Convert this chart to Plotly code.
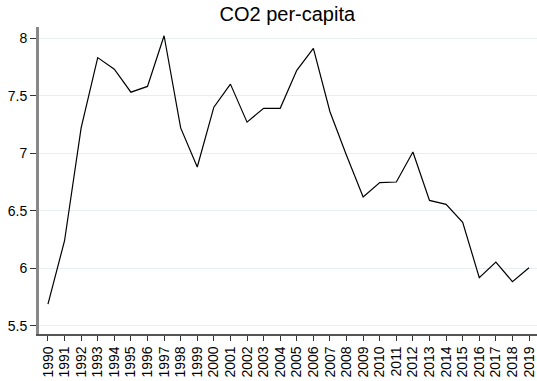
import plotly.graph_objects as go

# Données
years = list(range(1990, 2020))
year_labels = [str(y) for y in years]
co2 = [5.69, 6.24, 7.22, 7.83, 7.73, 7.53, 7.58, 8.02, 7.22, 6.88,
       7.40, 7.60, 7.27, 7.39, 7.39, 7.72, 7.91, 7.36, 6.98, 6.62,
       6.745, 6.75, 7.01, 6.59, 6.556, 6.40, 5.92, 6.055, 5.885, 6.005]
y_ticks = [5.5, 6, 6.5, 7, 7.5, 8]
y_labels = ["5.5", "6", "6.5", "7", "7.5", "8"]

# Créer le plot
fig = go.Figure()
fig.add_trace(go.Scatter(x=years, y=co2, mode="lines",
                         line=dict(color="black", width=1.2)))

# Update layout du plot
fig.update_layout(
        width=537, height=381,
        template="plotly_white",
        plot_bgcolor="white",
        paper_bgcolor="white",
        showlegend=False,
        margin=dict(l=39, r=0, t=27, b=47, autoexpand=False),
        title=dict(text="CO2 per-capita", x=0.535, xanchor="center",
                   y=0.962, yanchor="middle",
                   font=dict(size=20, color="black")),
        font=dict(family="Arial, Liberation Sans, sans-serif", size=14, color="black"),
        )

fig.update_xaxes(range=[1989.46, 2019.48], tickmode="array",
                 tickvals=years, ticktext=year_labels, automargin=False,
                 tickangle=-90, ticks="outside", ticklen=5, tickcolor="#333",
                 showline=True, linecolor="#555", linewidth=1.5,
                 showgrid=False, zeroline=False)
fig.update_yaxes(range=[5.43, 8.096], tickvals=y_ticks, ticktext=y_labels,
                 automargin=False,
                 ticks="outside", ticklen=6, tickcolor="#333",
                 showline=True, linecolor="#888", linewidth=3,
                 showgrid=True, gridcolor="#e6eef0", gridwidth=1, zeroline=False)

# enlever la marge du body pour que la figure commence en (0, 0)
fig.write_html("out.html", config={"displayModeBar": False},
               post_script="document.body.style.margin='0';")
